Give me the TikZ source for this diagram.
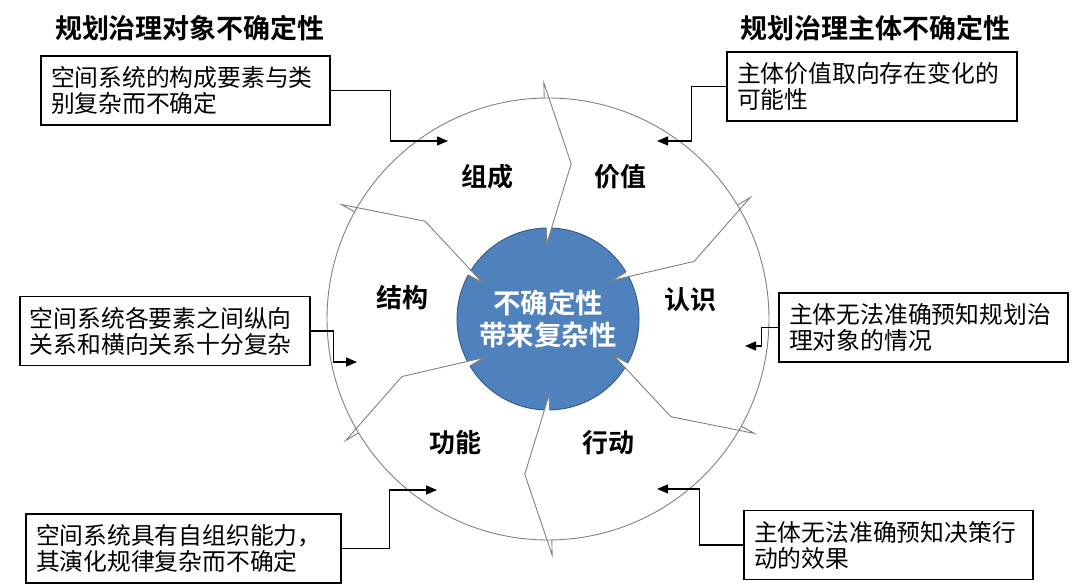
\documentclass[tikz,border=0pt]{standalone}
\usepackage{fontspec}
\setmainfont{Noto Sans CJK SC}[BoldFont={Noto Sans CJK SC Bold}]
\usepackage{xcolor}
\usetikzlibrary{arrows.meta, calc}
\definecolor{coreblue}{RGB}{79,129,189}
\definecolor{coreedge}{RGB}{56,93,138}
\definecolor{ringgray}{RGB}{128,128,128}

\begin{document}
\begin{tikzpicture}[
  x=1pt, y=1pt,
  box/.style={draw, line width=1.2pt, minimum height=69pt, inner xsep=10pt, align=left, text width=#1, font=\fontsize{23.8}{26}\selectfont},
  box/.default=269pt,
  conn/.style={-{Triangle[length=11pt,width=9pt]}, line width=1.2pt},
  divline/.style={draw=ringgray, line width=0.9pt, line join=miter},
  title/.style={font=\bfseries\fontsize{27}{30}\selectfont},
  lbl/.style={font=\bfseries\fontsize{26}{30}\selectfont}
]
\useasboundingbox (0,0) rectangle (1080,585);
\coordinate (C) at (548,266);

\node[circle, draw=ringgray, line width=0.9pt, minimum size=442pt, inner sep=0pt] (ring) at (C) {};
\node[circle, fill=coreblue, draw=coreedge, line width=1pt, minimum size=182pt, inner sep=0pt] (core) at (C) {};

\foreach \a in {91,31,-29,-89,-149,151} {
  \fill[white] ($(C)+(\a-9.5:157)$) -- ($(C)+(\a:75)$) -- ($(C)+(\a:92)$) -- cycle;
  \draw[divline] ($(C)+(\a:221)$) -- ($(C)+(\a:236)$) -- ($(C)+(\a-9.5:157)$) -- ($(C)+(\a:75)$) -- ($(C)+(\a:91)$);
}

\node[align=center, text=white, font=\bfseries\fontsize{27.5}{32}\selectfont] (coretext) at (C) {不确定性\\带来复杂性};

\node[lbl] (zucheng) at (487,408) {组成};
\node[lbl] (jiazhi) at (620,408) {价值};
\node[lbl] (jiegou) at (402,287) {结构};
\node[lbl] (renshi) at (690,285) {认识};
\node[lbl] (gongneng) at (455,142) {功能};
\node[lbl] (xingdong) at (608,142) {行动};

\node[title] (objtitle) at (190,557) {规划治理对象不确定性};
\node[title] (subtitle) at (875,557) {规划治理主体不确定性};

\node[box] (objA) at (185.5,494.5) {空间系统的构成要素与类\\别复杂而不确定};
\node[box=270pt] (subA) at (872,498.5) {主体价值取向存在变化的\\可能性};
\node[box=270pt] (objB) at (165,254) {空间系统各要素之间纵向\\关系和横向关系十分复杂};
\node[box] (subB) at (923.5,257.5) {主体无法准确预知规划治\\理对象的情况};
\node[box=295pt] (objC) at (183.5,36.5) {空间系统具有自组织能力，\\其演化规律复杂而不确定};
\node[box] (subC) at (888.5,40) {主体无法准确预知决策行\\动的效果};

\coordinate (objAend) at (448,444);
\coordinate (subAend) at (657,444);
\coordinate (objBend) at (357,223);
\coordinate (subBend) at (745,239);
\coordinate (objCend) at (437,95);
\coordinate (subCend) at (657,96);

\draw[conn] (objA.east) -- ++(60,0) |- (objAend);
\draw[conn] (subA.west) -- ++(-35,0) |- (subAend);
\draw[conn] (objB.east) -- ++(23,0) |- (objBend);
\draw[conn] (subB.west) -- ++(-17,0) |- (subBend);
\draw[conn] (objC.east) -- ++(48,0) |- (objCend);
\draw[conn] (subC.west) -- ++(-44,0) |- (subCend);
\end{tikzpicture}
\end{document}
